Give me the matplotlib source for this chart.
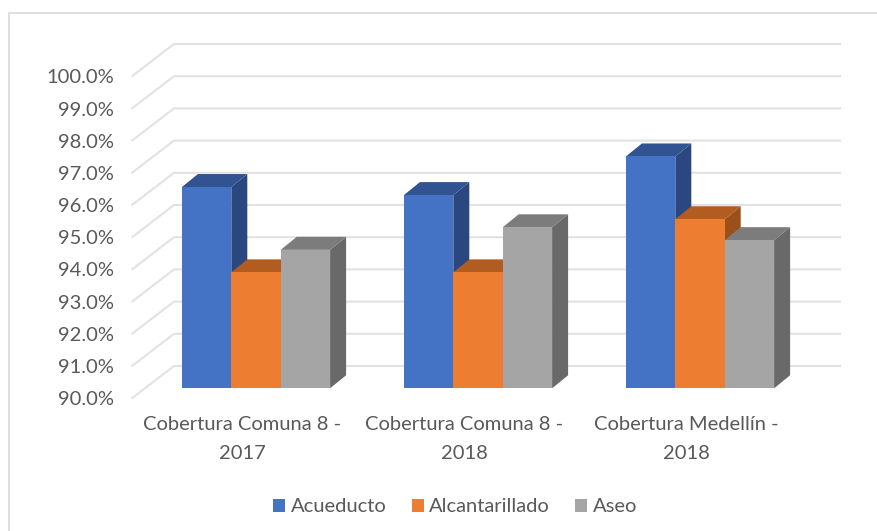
import matplotlib
matplotlib.use('Agg')
import matplotlib.pyplot as plt
from matplotlib.lines import Line2D
from matplotlib.patches import Polygon
from matplotlib.transforms import Affine2D, IdentityTransform

categories = ['Cobertura Comuna 8 -\n2017', 'Cobertura Comuna 8 -\n2018', 'Cobertura Medellín -\n2018']
series_names = ['Acueducto', 'Alcantarillado', 'Aseo']
acueducto = [96.25, 96.0, 97.2]
alcantarillado = [93.6, 93.6, 95.25]
aseo = [94.3, 95.0, 94.6]
ticks = [90, 91, 92, 93, 94, 95, 96, 97, 98, 99, 100]

front_colors = ['#4472C4', '#ED7D31', '#A5A5A5']
top_colors = ['#325391', '#B25C20', '#7C7C7C']
side_colors = ['#2A4780', '#9C5019', '#696969']
grid_color = '#E2E2E2'
text_color = '#595959'

W, H = 878, 531
plt.rcParams['font.family'] = ['Lato', 'DejaVu Sans']

fig = plt.figure(figsize=(W / 100, H / 100), dpi=100)
# axes sit on the plane of the bar fronts, the depth is faked with pixel offsets
ax = fig.add_axes([145 / W, (H - 388.3) / H, 666 / W, 322 / H])
ax.set_xlim(-0.5, 2.5)
ax.set_ylim(90, 100)
ax.patch.set_visible(False)
for s in ax.spines.values():
    s.set_visible(False)

# chart frame: only the left and top edges show in the crop
fig.add_artist(Line2D([8.5 / W, 8.5 / W, 1], [0, (H - 13) / H, (H - 13) / H],
                      color='#D9D9D9', linewidth=1.2, transform=fig.transFigure))

bar_w = 49.4 / 222
bar_dx, bar_dy = 16, 13
wall_dx, wall_dy = 29, 22.3
floor_dx, floor_dy = -12.7, -9.7


def px(x, y):
    return ax.transData.transform((x, y))


for t in ticks:
    x0, y0 = px(-0.5, t)
    x1, y1 = px(2.5, t)
    pts_x = [x0 + floor_dx, x0 + wall_dx, x1 + wall_dx]
    pts_y = [y0 + floor_dy, y0 + wall_dy, y1 + wall_dy]
    ax.add_line(Line2D(pts_x, pts_y, color=grid_color, linewidth=1.5,
                       transform=IdentityTransform(), clip_on=False, zorder=1))

z = 2
for j, values in enumerate([acueducto, alcantarillado, aseo]):
    xs = [i + (j - 1) * bar_w for i in range(len(categories))]
    for x, v in zip(xs, values):
        xr, yt = px(x + bar_w / 2, v)
        xl = px(x - bar_w / 2, v)[0]
        yb = px(x, 90)[1]
        side = [(xr, yb), (xr + bar_dx, yb + bar_dy), (xr + bar_dx, yt + bar_dy), (xr, yt)]
        top = [(xl, yt), (xl + bar_dx, yt + bar_dy), (xr + bar_dx, yt + bar_dy), (xr, yt)]
        ax.add_patch(Polygon(side, facecolor=side_colors[j], edgecolor='none',
                             transform=IdentityTransform(), clip_on=False, zorder=z))
        ax.add_patch(Polygon(top, facecolor=top_colors[j], edgecolor='none',
                             transform=IdentityTransform(), clip_on=False, zorder=z))
        ax.bar(x, v - 90, bottom=90, width=bar_w, color=front_colors[j], zorder=z, clip_on=False,
               label=series_names[j] if x == xs[0] else None)
        z += 1

ax.set_yticks(ticks)
ax.set_yticklabels([f'{t:.1f}%' for t in ticks], fontsize=14.5, color=text_color)
ax.set_xticks(range(len(categories)))
ax.set_xticklabels(categories, fontsize=14.5, color=text_color, linespacing=1.82)
ax.tick_params(length=0, axis='y', pad=22.5)
ax.tick_params(length=0, axis='x', pad=20)
for lab in ax.get_yticklabels():
    lab.set_transform(lab.get_transform() + Affine2D().translate(0, -10))
for lab in ax.get_xticklabels():
    lab.set_transform(lab.get_transform() + Affine2D().translate(-13.5, 0))

fig.legend(loc='center', bbox_to_anchor=(455 / W, (H - 507) / H), ncol=3, frameon=False,
           fontsize=14.5, labelcolor=text_color, handlelength=0.6, handleheight=0.6,
           handletextpad=0.27, columnspacing=1.25)

fig.savefig('out.png', dpi=100)
